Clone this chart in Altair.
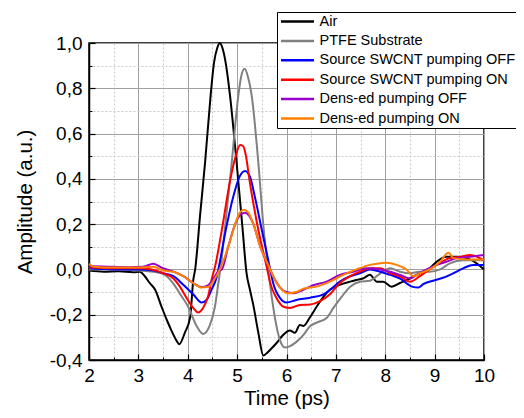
import altair as alt
import pandas as pd

names = ["Air", "PTFE Substrate", "Source SWCNT pumping OFF", "Source SWCNT pumping ON",
         "Dens-ed pumping OFF", "Dens-ed pumping ON"]
colors = ["#000000", "#808080", "#0000ff", "#ff0000", "#9a00cc", "#ff8000"]

air_t = [2.0, 2.3, 2.6, 2.9, 3.03, 3.13, 3.23, 3.34, 3.47, 3.57, 3.67, 3.76, 3.83, 3.94, 4.05, 4.11,
         4.15, 4.25, 4.35, 4.46, 4.53, 4.6, 4.65, 4.7, 4.77, 4.86, 4.99, 5.11, 5.19, 5.26, 5.33, 5.43,
         5.53, 5.6, 5.67, 5.8, 5.93, 6.07, 6.17, 6.27, 6.34, 6.48, 6.61, 6.75, 6.88, 7.08, 7.29, 7.45,
         7.56, 7.69, 7.83, 7.96, 8.13, 8.3, 8.5, 8.7, 8.9, 9.04, 9.24, 9.45, 9.65, 9.85, 10.0]
air_v = [-0.005, -0.01, -0.008, -0.012, -0.01, -0.03, -0.06, -0.09, -0.165, -0.22, -0.27, -0.31,
         -0.33, -0.28, -0.21, -0.05, 0.0, 0.24, 0.47, 0.76, 0.91, 0.98, 1.0, 0.98, 0.91, 0.76, 0.47,
         0.18, -0.015, -0.09, -0.16, -0.28, -0.38, -0.37, -0.355, -0.325, -0.29, -0.27, -0.28, -0.245,
         -0.25, -0.21, -0.165, -0.12, -0.09, -0.068, -0.054, -0.045, -0.039, -0.024, -0.054, -0.054,
         -0.076, -0.06, -0.04, -0.017, 0.005, 0.034, 0.056, 0.056, 0.05, 0.027, 0.0]

ptfe_t = [2.0, 2.5, 3.0, 3.3, 3.5, 3.7, 3.85, 4.01, 4.18, 4.31, 4.45, 4.55, 4.62, 4.66, 4.75, 4.89,
          5.02, 5.08, 5.15, 5.22, 5.3, 5.43, 5.54, 5.63, 5.73, 5.85, 5.97, 6.06, 6.2, 6.34, 6.48,
          6.61, 6.81, 6.95, 7.12, 7.29, 7.49, 7.69, 7.9, 8.1, 8.3, 8.5, 8.7, 8.9, 9.11, 9.31, 9.58,
          9.92, 10.0]
ptfe_v = [0.0, 0.0, -0.005, -0.01, -0.02, -0.06, -0.11, -0.165, -0.25, -0.285, -0.245, -0.165,
          -0.06, 0.0, 0.174, 0.47, 0.76, 0.85, 0.886, 0.85, 0.76, 0.47, 0.174, 0.0, -0.165, -0.3,
          -0.345, -0.34, -0.32, -0.29, -0.25, -0.235, -0.215, -0.17, -0.12, -0.076, -0.054, -0.05,
          -0.017, 0.005, -0.01, -0.017, -0.01, -0.01, 0.0, 0.027, 0.04, 0.04, 0.04]

soff_t = [2.0, 2.5, 3.0, 3.3, 3.5, 3.71, 3.91, 4.11, 4.28, 4.38, 4.48, 4.59, 4.62, 4.77, 4.92, 5.05,
          5.16, 5.26, 5.36, 5.5, 5.67, 5.73, 5.87, 6.0, 6.2, 6.48, 6.75, 6.88, 7.08, 7.29, 7.49, 7.69,
          7.9, 8.1, 8.3, 8.54, 8.67, 8.77, 8.97, 9.17, 9.38, 9.58, 9.78, 10.0]
soff_v = [0.005, 0.0, 0.0, -0.005, -0.017, -0.03, -0.068, -0.11, -0.146, -0.135, -0.09, -0.03, 0.0,
          0.174, 0.32, 0.41, 0.435, 0.41, 0.32, 0.174, 0.0, -0.06, -0.127, -0.146, -0.135, -0.125,
          -0.11, -0.09, -0.054, -0.03, -0.017, 0.0, -0.01, -0.024, -0.04, -0.076, -0.08, -0.065,
          -0.05, -0.037, -0.017, 0.005, 0.02, 0.02]

son_t = [2.0, 2.5, 3.0, 3.27, 3.5, 3.71, 3.84, 3.98, 4.11, 4.21, 4.31, 4.41, 4.5, 4.55, 4.69, 4.86,
         4.97, 5.06, 5.12, 5.18, 5.25, 5.43, 5.61, 5.67, 5.8, 5.94, 6.07, 6.27, 6.48, 6.68, 6.88,
         7.08, 7.29, 7.49, 7.69, 7.9, 8.1, 8.3, 8.5, 8.7, 8.9, 9.11, 9.31, 9.52, 9.72, 10.0]
son_v = [0.01, 0.005, 0.005, 0.0, -0.017, -0.04, -0.076, -0.127, -0.17, -0.19, -0.17, -0.12, -0.03,
         0.01, 0.174, 0.395, 0.5, 0.55, 0.545, 0.5, 0.395, 0.174, 0.0, -0.06, -0.127, -0.165, -0.17,
         -0.157, -0.155, -0.14, -0.11, -0.06, -0.03, -0.01, 0.005, 0.005, -0.017, -0.03, -0.054,
         -0.03, 0.0, 0.03, 0.05, 0.056, 0.064, 0.04]

doff_t = [2.0, 2.4, 2.8, 3.1, 3.3, 3.5, 3.71, 3.91, 4.11, 4.28, 4.41, 4.52, 4.62, 4.69, 4.82, 4.96,
          5.06, 5.16, 5.25, 5.33, 5.47, 5.67, 5.73, 5.87, 6.0, 6.14, 6.34, 6.54, 6.81, 7.08, 7.35,
          7.62, 7.9, 8.1, 8.3, 8.5, 8.63, 8.84, 9.04, 9.24, 9.45, 9.72, 10.0]
doff_v = [0.015, 0.012, 0.01, 0.012, 0.025, 0.005, -0.01, -0.03, -0.06, -0.078, -0.07, -0.04, -0.007,
          0.0, 0.1, 0.2, 0.24, 0.25, 0.235, 0.2, 0.1, 0.0, -0.03, -0.08, -0.1, -0.105, -0.09, -0.07,
          -0.054, -0.024, -0.01, 0.005, 0.0, -0.01, -0.024, -0.04, -0.024, 0.0, 0.02, 0.034, 0.05,
          0.056, 0.064]

don_t = [2.0, 2.1, 2.5, 3.0, 3.3, 3.5, 3.71, 3.91, 4.11, 4.28, 4.41, 4.55, 4.65, 4.82, 4.96, 5.05,
         5.14, 5.23, 5.33, 5.47, 5.67, 5.73, 5.87, 6.03, 6.2, 6.34, 6.61, 6.88, 7.15, 7.42, 7.69, 7.9,
         8.03, 8.23, 8.43, 8.57, 8.7, 8.9, 9.11, 9.28, 9.38, 9.65, 10.0]
don_v = [0.025, 0.012, 0.008, 0.008, 0.012, -0.005, -0.01, -0.03, -0.06, -0.08, -0.078, -0.04, 0.0,
         0.1, 0.2, 0.25, 0.264, 0.25, 0.2, 0.1, 0.0, -0.03, -0.08, -0.105, -0.1, -0.085, -0.076,
         -0.054, -0.024, 0.0, 0.02, 0.027, 0.03, 0.02, 0.0, -0.03, -0.017, 0.0, 0.034, 0.074, 0.05,
         0.044, 0.044]

x_major = [2, 3, 4, 5, 6, 7, 8, 9, 10]
x_minor = [2.5, 3.5, 4.5, 5.5, 6.5, 7.5, 8.5, 9.5]
y_major = [-0.4, -0.2, 0.0, 0.2, 0.4, 0.6, 0.8, 1.0]
y_minor = [-0.3, -0.1, 0.1, 0.3, 0.5, 0.7, 0.9]

series = [(air_t, air_v), (ptfe_t, ptfe_v), (soff_t, soff_v), (son_t, son_v),
          (doff_t, doff_v), (don_t, don_v)]
rows = []
for k, (ts, vs) in enumerate(series):
    for t, v in zip(ts, vs):
        rows.append({"series": names[k], "order": k, "t": t, "v": v})
df = pd.DataFrame(rows)

FONT = "Liberation Sans"
xs = alt.Scale(domain=[2, 10], nice=False, zero=False)
ys = alt.Scale(domain=[-0.4, 1.0], nice=False, zero=False)
ylab = "replace(replace(format(datum.value, '.1f'), '.', ','), '\u2212', '-')"

base = alt.Chart(df)

lines = base.mark_line(strokeWidth=2, interpolate="monotone").encode(
    x=alt.X("t:Q", scale=xs, axis=alt.Axis(
        orient="bottom", values=x_major, format="d", title="Time (ps)", grid=True,
        gridColor="#a0a0a0", gridWidth=1, tickSize=0, labelPadding=6, titlePadding=3,
        labelFlush=False, labelOverlap=False,
        domainColor="black", domainWidth=1.5, labelFont=FONT, labelFontSize=19,
        labelColor="black", titleFont=FONT, titleFontSize=20.5, titleFontWeight="normal",
        titleColor="black")),
    y=alt.Y("v:Q", scale=ys, axis=alt.Axis(
        orient="left", values=y_major, labelExpr=ylab, title="Amplitude (a.u.)", grid=True,
        gridColor="#a0a0a0", gridWidth=1, tickSize=0, labelPadding=7, titlePadding=14,
        labelFlush=False, labelOverlap=False,
        domainColor="black", domainWidth=1.5, labelFont=FONT, labelFontSize=19,
        labelColor="black", titleFont=FONT, titleFontSize=20.5, titleFontWeight="normal",
        titleColor="black")),
    color=alt.Color("series:N", sort=names,
                    scale=alt.Scale(domain=names, range=colors),
                    legend=alt.Legend(
                        orient="none", legendX=188, legendY=-31, title=None,
                        symbolType="stroke", symbolSize=1089, symbolStrokeWidth=2.5,
                        labelFont=FONT, labelFontSize=14.5, labelColor="black", labelLimit=400,
                        labelOffset=4, rowPadding=4.4, clipHeight=14, padding=2.5,
                        strokeColor="black", fillColor="white")),
    order=alt.Order("order:Q"),
    detail="series:N",
)

minor_grid = base.mark_line(opacity=0).encode(
    x=alt.X("t:Q", scale=xs, axis=alt.Axis(
        orient="bottom", values=x_minor, labels=False, domain=False, tickSize=0, title=None,
        grid=True, gridColor="#c8c8c8", gridDash=[2, 2], gridWidth=1)),
    y=alt.Y("v:Q", scale=ys, axis=alt.Axis(
        orient="left", values=y_minor, labels=False, domain=False, tickSize=0, title=None,
        grid=True, gridColor="#c8c8c8", gridDash=[2, 2], gridWidth=1)),
    detail="series:N",
)

major_ticks = base.mark_line(opacity=0).encode(
    x=alt.X("t:Q", scale=xs, axis=alt.Axis(
        orient="bottom", values=x_major, labels=False, domain=False, grid=False, title=None,
        tickSize=6, offset=-6, tickColor="black", tickWidth=1.2)),
    y=alt.Y("v:Q", scale=ys, axis=alt.Axis(
        orient="left", values=y_major, labels=False, domain=False, grid=False, title=None,
        tickSize=6, offset=-6, tickColor="black", tickWidth=1.2)),
    detail="series:N",
)

minor_ticks = base.mark_line(opacity=0).encode(
    x=alt.X("t:Q", scale=xs, axis=alt.Axis(
        orient="bottom", values=x_minor, labels=False, domain=False, grid=False, title=None,
        tickSize=3, offset=-3, tickColor="black", tickWidth=1)),
    y=alt.Y("v:Q", scale=ys, axis=alt.Axis(
        orient="left", values=y_minor, labels=False, domain=False, grid=False, title=None,
        tickSize=3, offset=-3, tickColor="black", tickWidth=1)),
    detail="series:N",
)

chart = alt.layer(minor_grid, major_ticks, minor_ticks, lines).resolve_axis(
    x="independent", y="independent"
).properties(
    width=395, height=317,
    autosize=alt.AutoSizeParams(type="none"),
    padding={"left": 81, "top": 35, "right": 32, "bottom": 50},
).configure_view(stroke="black", strokeWidth=1.5)

chart.save("out.html", embed_options={"renderer": "svg", "actions": False})
